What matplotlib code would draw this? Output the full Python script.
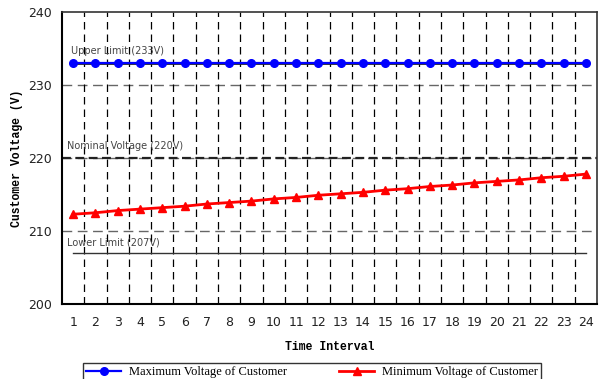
import numpy as np
import matplotlib.pyplot as plt

# time intervals and customer voltages (V)
intervals = np.arange(1, 25)
max_voltage = [233.0] * 24
min_voltage = [212.3, 212.5, 212.8, 213.0, 213.2, 213.4, 213.7, 213.9,
               214.1, 214.4, 214.6, 214.9, 215.1, 215.3, 215.6, 215.8,
               216.1, 216.3, 216.6, 216.8, 217.0, 217.3, 217.5, 217.8]
upper_limit = 233
nominal = 220
lower_limit = 207

fig = plt.figure(figsize=(5.99, 3.79), dpi=100)
ax = fig.add_axes([0.1035, 0.198, 0.8932, 0.770])

# grid: horizontal grey dashes, vertical black dashes between intervals
for yv in [210, 220, 230]:
    ax.axhline(yv, color='#666666', ls=(0, (7, 4)), lw=1.0, zorder=1)
for xv in np.arange(1.5, 24.5, 1.0):
    ax.axvline(xv, color='black', ls=(0, (6, 4)), lw=0.9, zorder=1)

# reference lines
ax.plot(intervals, [upper_limit] * 24, color='#222222', lw=2.0, zorder=2)
ax.axhline(nominal, color='#222222', ls=(0, (4, 2)), lw=1.6, zorder=2)
ax.plot(intervals, [lower_limit] * 24, color='#333333', lw=1.0, zorder=2)

l1, = ax.plot(intervals, max_voltage, color='blue', marker='o', ms=5.5,
              lw=1.6, zorder=3, label='Maximum Voltage of Customer')
l2, = ax.plot(intervals, min_voltage, color='red', marker='^', ms=6,
              lw=2.0, zorder=3, label='Minimum Voltage of Customer')

ax.text(0.92, 234.3, 'Upper Limit (233V)', fontsize=7, color='#444444')
ax.text(0.72, 221.2, 'Nominal Voltage (220V)', fontsize=7, color='#444444')
ax.text(0.72, 208.0, 'Lower Limit (207V)', fontsize=7, color='#444444')

ax.set_xlim(0.5, 24.5)
ax.set_ylim(200, 240)
ax.set_xticks(intervals)
ax.set_yticks([200, 210, 220, 230, 240])
ax.tick_params(axis='both', length=0, labelsize=9, colors='#222222', pad=7)
ax.tick_params(axis='x', pad=9)

for s in ['left', 'bottom']:
    ax.spines[s].set_linewidth(1.5)
for s in ['top', 'right']:
    ax.spines[s].set_linewidth(1.2)
    ax.spines[s].set_color('#333333')

ax.set_xlabel('Time Interval', family='Liberation Mono', fontweight='bold',
              fontsize=8.3, labelpad=8)
ax.set_ylabel('Customer Voltage (V)', family='Liberation Mono',
              fontweight='bold', fontsize=8.3, labelpad=4)

leg = fig.legend(handles=[l1, l2], loc='upper center', ncol=2,
                 bbox_to_anchor=(0.521, 1 - 363 / 379),
                 prop={'family': 'Liberation Serif', 'size': 9},
                 frameon=True, fancybox=False, edgecolor='black',
                 handlelength=2.8, handletextpad=0.6, columnspacing=4.2,
                 borderpad=0.25, borderaxespad=0)
leg.get_frame().set_linewidth(1.0)

fig.savefig('out.png', dpi=100)
